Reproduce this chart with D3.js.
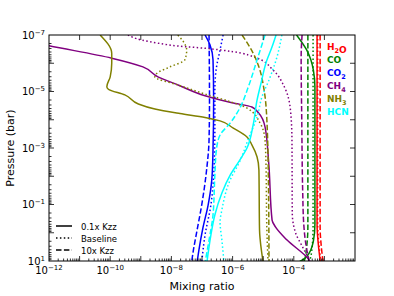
<!DOCTYPE html>
<html><head><meta charset="utf-8">
<script src="https://cdn.jsdelivr.net/npm/d3@7"></script>
<style>body{margin:0;background:#fff}svg{display:block;font-family:"DejaVu Sans",sans-serif}</style>
</head><body><svg id="c" width="394" height="296"></svg>
<script>
// Data: each curve is a list of [log10(mixing ratio), log10(pressure / bar)]
const xDomain = [1e-12, 1e-2];
const yDomain = [1e-7, 1e1];
const xTickLabels = [-12, -10, -8, -6, -4];
const yTickLabels = [-7, -5, -3, -1, 1];
const speciesNames = ["H2O", "CO", "CO2", "CH4", "NH3", "HCN"];
const speciesColors = ["#ff0000", "#008000", "#0000ff", "#800080", "#808000", "#00ffff"];
const runNames = ["0.1x Kzz", "Baseline", "10x Kzz"];

const h2o_low  = [[-3.24,-7],[-3.24,-0.3],[-3.20,0.4],[-3.13,1.05]];
const h2o_base = [[-3.22,-7],[-3.22,-0.3],[-3.18,0.4],[-3.11,1.05]];
const h2o_high = [[-3.14,-7],[-3.14,-0.2],[-3.10,0.5],[-3.04,1.05]];

const co_low  = [[-3.91,-7],[-3.58,-6.47],[-3.36,-5.76],[-3.31,-5.16],[-3.31,-0.3],[-3.36,0.3],[-3.58,0.85],[-3.86,1.05]];
const co_base = [[-3.37,-7],[-3.37,-0.2],[-3.40,0.5],[-3.47,0.95],[-3.50,1.05]];
const co_high = [[-3.54,-7],[-3.54,-0.2],[-3.58,0.5],[-3.63,0.89],[-3.67,1.05]];

const co2_low  = [[-6.90,-7],[-6.74,-6.65],[-6.64,-6.12],[-6.62,-4.70],[-6.64,-2.93],[-6.68,-1.87],[-6.80,-0.98],[-6.97,-0.17],[-7.10,0.61],[-7.16,1.05]];
const co2_base = [[-6.31,-7],[-6.41,-6.47],[-6.54,-5.76],[-6.58,-5.05],[-6.58,-3.64],[-6.61,-2.22],[-6.71,-0.98],[-6.90,0.08],[-7.01,1.05]];
const co2_high = [[-6.77,-7],[-6.755,-4.70],[-6.77,-3.28],[-6.85,-2.22],[-7.01,-0.98],[-7.16,-0.10],[-7.28,0.61],[-7.34,1.05]];

const ch4_low  = [[-12.4,-6.71],[-12,-6.62],[-9.95,-6.18],[-8.93,-5.87],[-8.44,-5.52],[-7.78,-5.23],[-6.90,-4.85],[-6.02,-4.60],[-5.37,-4.45],[-5.15,-4.24],[-4.94,-3.75],[-4.82,-2.47],[-4.71,-0.45],[-4.60,-0.21],[-4.22,0.26],[-3.50,0.96],[-3.45,1.05]];
const ch4_base = [[-9.42,-7],[-8.97,-6.82],[-8.43,-6.71],[-7.78,-6.61],[-6.90,-6.53],[-5.99,-6.41],[-5.20,-6.18],[-4.68,-5.76],[-4.29,-5.12],[-4.11,-4.35],[-4.06,-3.28],[-4.05,-0.70],[-3.94,0.01],[-3.72,0.49],[-3.50,0.96],[-3.47,1.05]];
const ch4_high = [[-3.73,-7],[-3.76,-6.2],[-3.74,-4],[-3.71,-1.5],[-3.68,-0.4],[-3.62,0.3],[-3.53,0.85],[-3.49,1.05]];

const nh3_low  = [[-10.33,-7],[-9.95,-6.35],[-9.95,-6.0],[-10.0,-5.52],[-10.11,-5.17],[-10.06,-5.08],[-9.52,-4.88],[-9.08,-4.56],[-8.54,-4.38],[-7.72,-4.22],[-6.90,-4.08],[-6.41,-3.96],[-5.99,-3.71],[-5.53,-3.39],[-5.37,-3.11],[-5.20,-2.68],[-5.14,-2.22],[-5.12,-0.10],[-5.06,0.61],[-5.0,1.05]];
const nh3_base = [[-7.79,-7],[-7.50,-6.47],[-7.56,-6.12],[-8.05,-5.87],[-8.48,-5.64],[-8.54,-5.52],[-7.78,-5.23],[-6.90,-4.91],[-6.08,-4.64],[-5.54,-4.42],[-5.10,-3.88],[-4.94,-3.28],[-4.91,-2.47],[-4.88,-0.10],[-4.84,1.05]];
const nh3_high = [[-5.69,-7],[-5.33,-6.36],[-5.14,-5.87],[-4.97,-5.05],[-4.88,-3.99],[-4.83,-1.87],[-4.81,1.05]];

const hcn_low  = [[-4.58,-7],[-4.71,-6.58],[-4.91,-6.01],[-5.07,-5.30],[-5.20,-4.70],[-5.33,-3.81],[-5.53,-3.0],[-5.76,-2.58],[-6.08,-2.04],[-6.35,-1.41],[-6.58,-0.63],[-6.71,0.08],[-6.84,1.05]];
const hcn_base = [[-4.39,-7],[-4.55,-6.22],[-4.81,-5.41],[-5.04,-4.81],[-5.20,-4.10],[-5.46,-3.39],[-5.79,-2.47],[-6.08,-1.87],[-6.35,-0.81],[-6.41,-0.38],[-6.35,0.26],[-6.28,1.05]];
const hcn_high = [[-4.94,-7],[-5.20,-6.12],[-5.50,-5.12],[-5.76,-4.42],[-6.08,-3.88],[-6.41,-3.46],[-6.53,-2.93],[-6.58,-2.04],[-6.64,-0.63],[-6.77,0.26],[-6.90,1.05]];

const curves = [
  [h2o_low, h2o_base, h2o_high],
  [co_low, co_base, co_high],
  [co2_low, co2_base, co2_high],
  [ch4_low, ch4_base, ch4_high],
  [nh3_low, nh3_base, nh3_high],
  [hcn_low, hcn_base, hcn_high]
];

const L = 49, R = 355, T = 35, B = 261;
const svg = d3.select("#c");
const x = d3.scaleLog().domain(xDomain).range([L, R]);
const y = d3.scaleLog().domain(yDomain).range([T, B]);
const dashes = [null, "1.5,2.4", "5.5,2.4"];

svg.append("clipPath").attr("id", "clip").append("rect")
  .attr("x", L).attr("y", T).attr("width", R - L).attr("height", B - T);

const line = d3.line().x(d => x(Math.pow(10, d[0]))).y(d => y(Math.pow(10, d[1]))).curve(d3.curveMonotoneY);
const g = svg.append("g").attr("clip-path", "url(#clip)");
curves.forEach((set, si) => {
  set.forEach((c, ri) => {
    g.append("path").attr("d", line(c)).attr("fill", "none")
      .attr("stroke", speciesColors[si]).attr("stroke-width", 1.5)
      .attr("stroke-dasharray", dashes[ri]);
  });
});

// ticks
const tk = svg.append("g").attr("stroke", "#000").attr("stroke-width", 0.8);
for (let e = -12; e <= -2; e++) {
  if (e > -12 && e < -2) {
    tk.append("line").attr("x1", x(Math.pow(10, e))).attr("x2", x(Math.pow(10, e))).attr("y1", B).attr("y2", B - 5);
    tk.append("line").attr("x1", x(Math.pow(10, e))).attr("x2", x(Math.pow(10, e))).attr("y1", T).attr("y2", T + 5);
  }
  if (e < -2) for (let m = 2; m <= 9; m++) {
    const xv = x(m * Math.pow(10, e));
    tk.append("line").attr("x1", xv).attr("x2", xv).attr("y1", B).attr("y2", B - 2.5);
  }
}
for (let e = -7; e <= 1; e++) {
  if (e > -7 && e < 1) {
    tk.append("line").attr("x1", L).attr("x2", L + 5).attr("y1", y(Math.pow(10, e))).attr("y2", y(Math.pow(10, e)));
    tk.append("line").attr("x1", R).attr("x2", R - 5).attr("y1", y(Math.pow(10, e))).attr("y2", y(Math.pow(10, e)));
  }
  if (e < 1) for (let m = 2; m <= 9; m++) {
    const yv = y(m * Math.pow(10, e));
    tk.append("line").attr("x1", L).attr("x2", L + 2.5).attr("y1", yv).attr("y2", yv);
  }
}

svg.append("rect").attr("x", L).attr("y", T).attr("width", R - L).attr("height", B - T)
  .attr("fill", "none").attr("stroke", "#000").attr("stroke-width", 1);

// tick labels
xTickLabels.forEach(e => {
  const t = svg.append("text").attr("x", x(Math.pow(10, e))).attr("y", B + 13)
    .attr("text-anchor", "middle").attr("font-size", 10).attr("fill", "#000");
  t.append("tspan").text("10");
  t.append("tspan").attr("dy", -4).attr("font-size", 7).text("\u2212" + Math.abs(e));
});
yTickLabels.forEach(e => {
  const t = svg.append("text").attr("x", L - 4).attr("y", y(Math.pow(10, e)) + 3.5)
    .attr("text-anchor", "end").attr("font-size", 10).attr("fill", "#000");
  t.append("tspan").text("10");
  t.append("tspan").attr("dy", -4).attr("font-size", 7).text((e < 0 ? "\u2212" : "") + Math.abs(e));
});

svg.append("text").attr("x", (L + R) / 2).attr("y", 290).attr("text-anchor", "middle")
  .attr("font-size", 11).text("Mixing ratio");
svg.append("text").attr("transform", `translate(14,${(T + B) / 2}) rotate(-90)`).attr("text-anchor", "middle")
  .attr("font-size", 11).text("Pressure (bar)");

// run legend
runNames.forEach((n, i) => {
  const yy = 226 + i * 12;
  svg.append("line").attr("x1", 56).attr("x2", 72).attr("y1", yy).attr("y2", yy)
    .attr("stroke", "#000").attr("stroke-width", 1.5).attr("stroke-dasharray", dashes[i]);
  svg.append("text").attr("x", 81).attr("y", yy + 3.5).attr("font-size", 8.5).text(n);
});

// species legend
speciesNames.forEach((n, i) => {
  const t = svg.append("text").attr("x", 327).attr("y", 50 + i * 13).attr("font-size", 9)
    .attr("font-weight", "bold").attr("fill", speciesColors[i]);
  const m = n.match(/^([A-Z]+?)(\d?)$/);
  const parts = n.split(/(\d)/).filter(s => s.length);
  parts.forEach(p => {
    if (/\d/.test(p)) t.append("tspan").attr("dy", 2.5).attr("font-size", 6.5).text(p);
    else t.append("tspan").text(p);
  });
});
</script></body></html>
